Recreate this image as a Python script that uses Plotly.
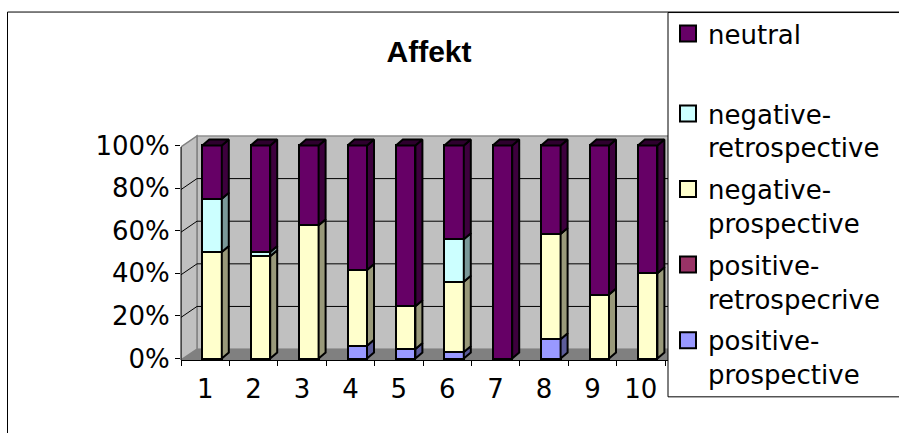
import plotly.graph_objects as go

# ---- data -------------------------------------------------------------
categories = [1, 2, 3, 4, 5, 6, 7, 8, 9, 10]
tick_labels = ["1", "2", "3", "4", "5", "6", "7", "8", "9", "10"]

positive_prospective = [0, 0, 0, 6, 4.5, 3, 0, 9, 0, 0]
positive_retrospecrive = [0, 0, 0, 0, 0, 0, 0, 0, 0, 0]
negative_prospective = [50, 48, 62.5, 35.5, 20, 33, 0, 49.5, 30, 40]
negative_retrospective = [25, 2, 0, 0, 0, 20, 0, 0, 0, 0]
neutral = [25, 50, 37.5, 58.5, 75.5, 44, 100, 41.5, 70, 60]

# name, values, face colour, side colour, legend, legend rank (stacking order bottom -> top)
series = [
    ("positive-<br>prospective", positive_prospective, "#9999FF", "#5C5C99", "legend2", 5),
    ("positive-<br>retrospecrive", positive_retrospecrive, "#993366", "#5C1F3D", "legend2", 4),
    ("negative-<br>prospective", negative_prospective, "#FFFFCC", "#99997A", "legend2", 3),
    ("negative-<br>retrospective", negative_retrospective, "#CCFFFF", "#7A9999", "legend2", 2),
    ("neutral", neutral, "#660066", "#3D003D", "legend", 1),
]

# ---- geometry of the pseudo-3D box ------------------------------------
W, H = 899, 433
PL, PR, PT, PB = 181, 668, 133, 360          # plot area in pixels
XPX = 48.4                                    # pixels per category
VPX = 2.14                                    # pixels per percent
x_range = [0.5, 0.5 + (PR - PL) / XPX]
v_at_bottom = -1.5 / VPX                      # front floor edge
y_range = [v_at_bottom, v_at_bottom + (PB - PT) / VPX]

DEPTH_X = 16 / XPX                            # back wall shift
DEPTH_V = 11 / VPX
BAR_W = 19.5 / XPX
BAR_OFF = -2.9 / XPX
SIDE_X = 7 / XPX                              # bar side-face depth
SIDE_V = 6 / VPX


def front(v):
    return v_at_bottom + v


def back(v):
    return front(v) + DEPTH_V


def fx(px):
    return (px - PL) / (PR - PL)


def fy(py):
    return (PB - py) / (PB - PT)


shapes = []
# back wall
shapes.append(dict(type="rect", layer="below", xref="x", yref="y",
                   x0=0.5 + DEPTH_X, x1=x_range[1] + 1, y0=back(0), y1=back(100),
                   fillcolor="#C0C0C0", line=dict(color="#909090", width=1.5)))
# left side wall
shapes.append(dict(type="path", layer="below", xref="x", yref="y",
                   path=f"M0.5,{front(0)} L0.5,{front(100)} L{0.5 + DEPTH_X},{back(100)} "
                        f"L{0.5 + DEPTH_X},{back(0)} Z",
                   fillcolor="#C0C0C0", line=dict(color="#808080", width=1.5)))
# floor
shapes.append(dict(type="path", layer="below", xref="x", yref="y",
                   path=f"M0.5,{front(0)} L{x_range[1] + 1},{front(0)} "
                        f"L{x_range[1] + 1},{back(0)} L{0.5 + DEPTH_X},{back(0)} Z",
                   fillcolor="#808080", line=dict(width=0)))
# gridlines on the walls
for v in [20, 40, 60, 80]:
    shapes.append(dict(type="line", layer="below", xref="x", yref="y",
                       x0=0.5 + DEPTH_X, x1=x_range[1] + 1, y0=back(v), y1=back(v),
                       line=dict(color="black", width=1)))
    shapes.append(dict(type="line", layer="below", xref="x", yref="y",
                       x0=0.5, x1=0.5 + DEPTH_X, y0=front(v), y1=back(v),
                       line=dict(color="black", width=1)))
# front value axis line
shapes.append(dict(type="line", xref="paper", yref="y", x0=0, x1=0,
                   y0=front(0), y1=front(100), line=dict(color="black", width=1)))
# chart border and legend box
shapes.append(dict(type="rect", xref="paper", yref="paper",
                   x0=fx(7.5), x1=fx(W + 10), y0=fy(10.5), y1=fy(H + 10),
                   line=dict(color="black", width=1)))
shapes.append(dict(type="rect", xref="paper", yref="paper",
                   x0=fx(668), x1=fx(W + 10), y0=fy(11), y1=fy(397),
                   fillcolor="white", line=dict(color="black", width=1)))

fig = go.Figure()

# front faces of the stacked columns
for name, vals, color, shade, leg, rank in series:
    fig.add_trace(go.Bar(
        x=categories, y=vals, name=name, legendgroup=name, showlegend=False,
        width=BAR_W, offset=BAR_OFF,
        marker=dict(color=color, line=dict(color="black", width=2.5)),
        hoverinfo="skip",
    ))

# side and top faces, derived from the same stacked values
cum = [0.0] * len(categories)
for name, vals, color, shade, leg, rank in series:
    for i, c in enumerate(categories):
        v = vals[i]
        if v <= 0:
            continue
        b, t = cum[i], cum[i] + v
        xr = c + BAR_OFF + BAR_W
        xs = [xr, xr + SIDE_X, xr + SIDE_X, xr, xr]
        ys = [b, b + SIDE_V, t + SIDE_V, t, b]
        fig.add_trace(go.Scatter(x=xs, y=ys, mode="lines", fill="toself",
                                 fillcolor=shade, line=dict(color="black", width=2),
                                 legendgroup=name, showlegend=False, hoverinfo="skip"))
        cum[i] = t
for i, c in enumerate(categories):
    xl = c + BAR_OFF
    xr = xl + BAR_W
    t = cum[i]
    fig.add_trace(go.Scatter(x=[xl, xl + SIDE_X, xr + SIDE_X, xr, xl],
                             y=[t, t + SIDE_V, t + SIDE_V, t, t],
                             mode="lines", fill="toself", fillcolor="#2E002E",
                             line=dict(color="black", width=2),
                             legendgroup="neutral", showlegend=False, hoverinfo="skip"))

# legend keys (square swatches)
for name, vals, color, shade, leg, rank in series:
    fig.add_trace(go.Scatter(
        x=[None], y=[None], mode="markers", name=name, legendgroup=name,
        legend=leg, legendrank=rank, showlegend=True, hoverinfo="skip",
        marker=dict(symbol="square", size=16, color=color,
                    line=dict(color="black", width=2)),
    ))

tick_font = dict(family="DejaVu Sans", size=26, color="black")
legend_font = dict(family="DejaVu Sans", size=26, color="black")

fig.update_layout(
    width=W, height=H,
    margin=dict(l=PL, r=W - PR, t=PT, b=H - PB, pad=0),
    paper_bgcolor="white", plot_bgcolor="white",
    barmode="stack", bargap=0,
    title=dict(text="<b>Affekt</b>", x=429 / W, y=1 - 51 / H,
               xanchor="center", yanchor="middle", xref="container", yref="container",
               font=dict(family="Liberation Sans", size=30, color="black")),
    xaxis=dict(range=x_range, tickvals=categories, ticktext=tick_labels,
               ticks="", showgrid=False, zeroline=False, ticklabelstandoff=6,
               showline=True, linecolor="black", linewidth=1,
               tickfont=tick_font,
               minor=dict(tickvals=[k + 0.5 for k in range(0, 11)], ticks="outside",
                          ticklen=5, tickcolor="black", showgrid=False)),
    yaxis=dict(range=y_range, tickvals=[0, 20, 40, 60, 80, 100],
               ticktext=["0%", "20%", "40%", "60%", "80%", "100%"],
               ticks="outside", ticklen=5, tickcolor="black",
               showgrid=False, zeroline=False, showline=False,
               tickfont=tick_font),
    shapes=shapes,
    legend=dict(x=fx(668), y=fy(10), xanchor="left", yanchor="top",
                bgcolor="rgba(0,0,0,0)", borderwidth=0, font=legend_font,
                traceorder="grouped", maxheight=400, valign="top"),
    legend2=dict(x=fx(668), y=fy(90), xanchor="left", yanchor="top",
                 bgcolor="rgba(0,0,0,0)", borderwidth=0, font=legend_font,
                 traceorder="grouped", tracegroupgap=5, maxheight=400, valign="top"),
)

fig.write_html("out.html")
